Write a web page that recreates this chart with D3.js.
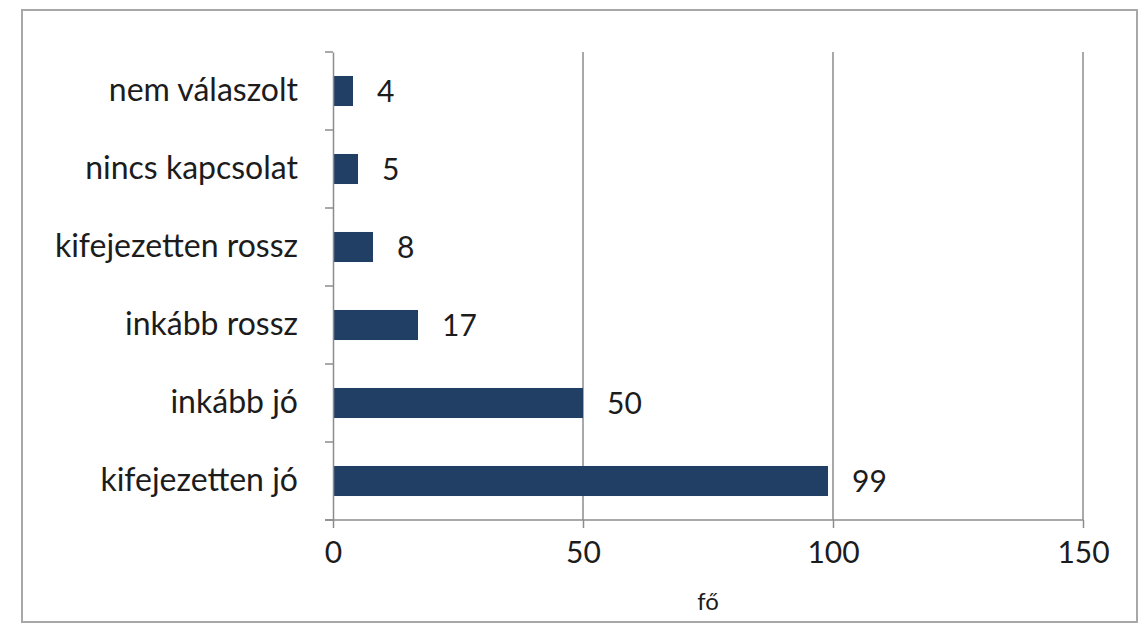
<!DOCTYPE html>
<html>
<head>
<meta charset="utf-8">
<script src="https://cdn.jsdelivr.net/npm/d3@7"></script>
<style>
  body { margin: 0; background: #fff; }
  text { font-family: Lato, "Open Sans", sans-serif; fill: #1c1c1c; }
</style>
</head>
<body>
<svg width="1148" height="626"></svg>
<script>
var categories = ["nem válaszolt", "nincs kapcsolat", "kifejezetten rossz", "inkább rossz", "inkább jó", "kifejezetten jó"];
var values = [4, 5, 8, 17, 50, 99];
var xTicks = [0, 50, 100, 150];
var xTitle = "fő";

var svg = d3.select("svg");
var margin = { left: 333, right: 65, top: 52, bottom: 106 };
var width = 1148, height = 626;

// outer frame
svg.append("rect")
  .attr("x", 22).attr("y", 10)
  .attr("width", 1115).attr("height", 612)
  .attr("fill", "#fff")
  .attr("stroke", "#a8a8a8")
  .attr("stroke-width", 2);

var x = d3.scaleLinear().domain([0, 150]).range([margin.left, width - margin.right]);
var y = d3.scaleBand().domain(categories)
  .range([margin.top, height - margin.bottom])
  .paddingInner(0.615).paddingOuter(0.3075);

var y0 = margin.top, y1 = height - margin.bottom;

// vertical gridlines
svg.append("g")
  .selectAll("line")
  .data(xTicks.slice(1))
  .join("line")
  .attr("x1", d => x(d)).attr("x2", d => x(d))
  .attr("y1", y0).attr("y2", y1)
  .attr("stroke", "#8c8c8c")
  .attr("stroke-width", 1.5);

// bars
svg.append("g")
  .selectAll("rect")
  .data(categories)
  .join("rect")
  .attr("x", x(0))
  .attr("y", d => y(d))
  .attr("width", (d, i) => x(values[i]) - x(0))
  .attr("height", y.bandwidth())
  .attr("fill", "#213e64");

// value labels
svg.append("g")
  .selectAll("text")
  .data(categories)
  .join("text")
  .attr("x", (d, i) => x(values[i]) + 24)
  .attr("y", d => y(d) + y.bandwidth() / 2)
  .attr("dy", "0.36em")
  .attr("font-size", 30)
  .text((d, i) => values[i]);

// y axis
var yAxis = svg.append("g")
  .attr("transform", "translate(" + x(0) + ",0)")
  .call(d3.axisLeft(y).tickSize(0).tickPadding(35));
yAxis.select(".domain").attr("stroke", "#8c8c8c").attr("stroke-width", 1.5);
yAxis.selectAll("text").attr("font-size", 32).attr("font-family", "Lato, sans-serif").attr("fill", "#1c1c1c");

// category boundary ticks
var bounds = d3.range(categories.length + 1).map(i => y0 + i * y.step());
svg.append("g")
  .selectAll("line")
  .data(bounds)
  .join("line")
  .attr("x1", x(0) - 8).attr("x2", x(0))
  .attr("y1", d => d).attr("y2", d => d)
  .attr("stroke", "#8c8c8c")
  .attr("stroke-width", 1.5);

// x axis
var xAxis = svg.append("g")
  .attr("transform", "translate(0," + y1 + ")")
  .call(d3.axisBottom(x).tickValues(xTicks).tickSize(8).tickPadding(14));
xAxis.select(".domain").attr("stroke", "#8c8c8c").attr("stroke-width", 1.5)
  .attr("d", "M" + (x(0) - 8) + ",0H" + x(150));
xAxis.selectAll(".tick line").attr("stroke", "#8c8c8c").attr("stroke-width", 1.5);
xAxis.selectAll("text").attr("font-size", 30).attr("font-family", "Lato, sans-serif").attr("fill", "#1c1c1c");

svg.append("text")
  .attr("x", (x(0) + x(150)) / 2)
  .attr("y", 610)
  .attr("text-anchor", "middle")
  .attr("font-size", 24)
  .text(xTitle);
</script>
</body>
</html>
